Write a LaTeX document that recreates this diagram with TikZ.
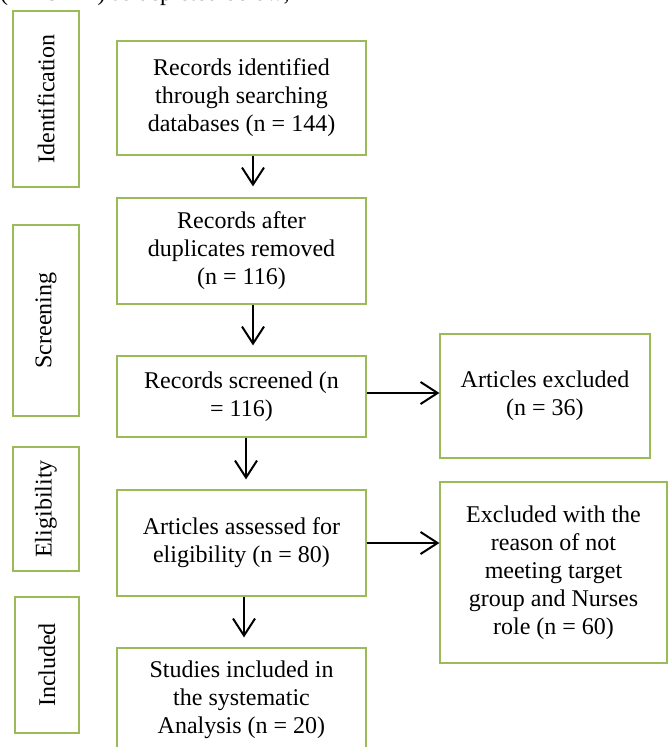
\documentclass[tikz,border=0pt]{standalone}
\usepackage{fontspec}
\setmainfont{Liberation Serif}
\usetikzlibrary{arrows.meta}
\definecolor{boxgreen}{RGB}{155,187,89}
\begin{document}
\begin{tikzpicture}[x=1pt,y=-1pt,
  txt/.style={font=\fontsize{24}{28}\selectfont},
  box/.style={txt, draw=boxgreen, line width=1.2pt, align=center, inner sep=0pt},
  lab/.style={box, rotate=90},
  arr/.style={-{Straight Barb[length=17pt,width=22pt,line width=2pt]}, line width=2pt}
]
\useasboundingbox (0,0) rectangle (670,747);
\clip (0,0) rectangle (670,747);

\node[txt, anchor=base west, inner sep=0pt] (intro) at (0,0) {(PRISMA) as depicted below;};

\node[lab, minimum width=176pt, minimum height=66pt] (l1) at (46,99) {Identification};
\node[lab, minimum width=191pt, minimum height=66pt] (l2) at (46,320.5) {Screening};
\node[lab, minimum width=124pt, minimum height=66pt] (l3) at (46,509) {Eligibility};
\node[lab, minimum width=136pt, minimum height=64pt] (l4) at (47,665) {Included};

\node[box, minimum width=249pt, minimum height=114pt] (b1) at (241.5,98) {Records identified\\through searching\\databases (n = 144)};
\node[box, minimum width=249pt, minimum height=106pt] (b2) at (241.5,251) {Records after\\duplicates removed\\(n = 116)};
\node[box, minimum width=249pt, minimum height=81pt] (b3) at (241.5,396.5) {Records screened (n\\= 116)};
\node[box, minimum width=249pt, minimum height=106pt] (b4) at (241.5,543) {Articles assessed for\\eligibility (n = 80)};
\node[box, minimum width=249pt, minimum height=104pt] (b5) at (241.5,700) {Studies included in\\the systematic\\Analysis (n = 20)};

\node[box, minimum width=210pt, minimum height=124pt] (b6) at (545,396) {Articles excluded\\(n = 36)};
\node[box, minimum width=227pt, minimum height=181pt] (b7) at (553.5,572.5) {Excluded with the\\reason of not\\meeting target\\group and Nurses\\role (n = 60)};

\draw[arr, shorten >=11pt] ([xshift=11.5pt]b1.south) -- ([xshift=11.5pt]b2.north);
\draw[arr, shorten >=10pt] ([xshift=11.5pt]b2.south) -- ([xshift=11.5pt]b3.north);
\draw[arr, shorten >=10pt] ([xshift=4.5pt]b3.south) -- ([xshift=4.5pt]b4.north);
\draw[arr, shorten >=10pt] ([xshift=2.5pt]b4.south) -- ([xshift=2.5pt]b5.north);

\coordinate (h1) at ([yshift=3.5pt]b3.east);
\draw[arr] (h1) -- (b6.west |- h1);
\draw[arr] (b4.east) -- (b7.west |- b4.east);
\end{tikzpicture}
\end{document}
